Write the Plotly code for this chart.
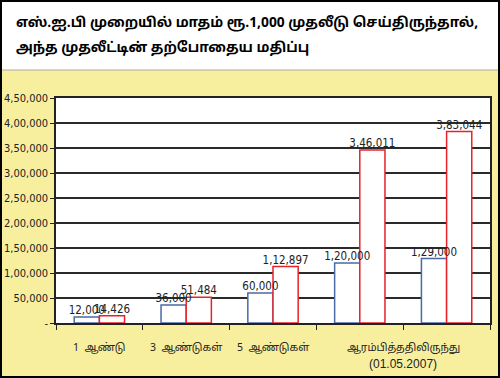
import plotly.graph_objects as go

# ---- data ----
group_pos = [0, 1, 2, 3, 4]
invested = [12000, 36000, 60000, 120000, 129000]
current_value = [14426, 51484, 112897, 346011, 383044]
x_label_pos = [0, 1, 2, 3.5]
x_labels = ["1  ஆண்டு", "3  ஆண்டுகள்", "5  ஆண்டுகள்", "ஆரம்பித்ததிலிருந்து"]
x_sublabels = ["", "", "", "(01.05.2007)"]
y_ticks = [0, 50000, 100000, 150000, 200000, 250000, 300000, 350000, 400000, 450000]
title_lines = ["எஸ்.ஐ.பி முறையில் மாதம் ரூ.1,000 முதலீடு செய்திருந்தால்,",
               "அந்த முதலீட்டின் தற்போதைய மதிப்பு"]


def indian(n):
    s = str(int(n))
    if len(s) <= 3:
        return s
    head, tail = s[:-3], s[-3:]
    parts = []
    while len(head) > 2:
        parts.insert(0, head[-2:])
        head = head[:-2]
    if head:
        parts.insert(0, head)
    return ",".join(parts) + "," + tail


W, H = 500, 378
L, R, T, B = 56, 10, 98, 55
pw, ph = W - L - R, H - T - B


def px_x(px):
    return (px - L) / pw


def px_y(py):
    return (H - B - py) / ph


YELLOW = "#F8EF9E"
NARROW = "Liberation Sans Narrow, DejaVu Sans Condensed, Arial Narrow, sans-serif"
TAMIL = "Noto Sans Tamil, Lohit Tamil, Noto Sans, DejaVu Sans, sans-serif"
BAR_OFFSET = 0.145  # half of one bar's width, in category units

fig = go.Figure()
fig.add_trace(go.Bar(
    x=group_pos, y=invested, marker=dict(color="white", line=dict(color="#4A6AA6", width=1.5)),
    showlegend=False, hoverinfo="skip",
))
fig.add_trace(go.Bar(
    x=group_pos, y=current_value, marker=dict(color="white", line=dict(color="#E5232A", width=1.5)),
    showlegend=False, hoverinfo="skip",
))
# value labels drawn on top of all bars
fig.add_trace(go.Scatter(
    x=[g - BAR_OFFSET for g in group_pos], y=invested, mode="text",
    text=[indian(v) for v in invested], textposition="top center", cliponaxis=False,
    textfont=dict(family=NARROW, size=11.5, color="#222"), showlegend=False, hoverinfo="skip",
))
fig.add_trace(go.Scatter(
    x=[g + BAR_OFFSET for g in group_pos], y=current_value, mode="text",
    text=[indian(v) for v in current_value], textposition="top center", cliponaxis=False,
    textfont=dict(family=NARROW, size=11.5, color="#222"), showlegend=False, hoverinfo="skip",
))

fig.update_layout(
    width=W, height=H, margin=dict(l=L, r=R, t=T, b=B, autoexpand=False),
    paper_bgcolor=YELLOW, plot_bgcolor="white",
    barmode="group", bargap=0.42, bargroupgap=0,
    font=dict(family=NARROW, color="#222"),
)
fig.update_xaxes(
    range=[-0.5, 4.5], tickvals=[-0.5, 0.5, 1.5, 2.5, 3.5, 4.5], ticktext=[""] * 6,
    ticks="outside", ticklen=5, tickcolor="#222", tickwidth=1, automargin=False,
    showgrid=False, showline=True, linecolor="#222", linewidth=1.5, mirror=True, zeroline=False,
)
fig.update_yaxes(
    range=[0, 450000], tickvals=y_ticks,
    ticktext=["-" if v == 0 else indian(v) for v in y_ticks],
    ticks="outside", ticklen=4, tickcolor="#222", automargin=False,
    tickfont=dict(family=NARROW, size=11, color="#222"),
    showgrid=True, gridcolor="#2a2a2a", gridwidth=1.8,
    showline=True, linecolor="#222", linewidth=1.5, mirror=True, zeroline=False,
)

# white title band and outer border
fig.add_shape(type="rect", xref="paper", yref="paper",
              x0=px_x(0), x1=px_x(W), y0=px_y(70), y1=px_y(0),
              fillcolor="white", line=dict(width=0), layer="below")
fig.add_shape(type="line", xref="paper", yref="paper",
              x0=px_x(0), x1=px_x(W), y0=px_y(70), y1=px_y(70),
              line=dict(color="#aaa", width=1))
fig.add_shape(type="rect", xref="paper", yref="paper",
              x0=px_x(1), x1=px_x(W - 1), y0=px_y(H - 1), y1=px_y(1),
              line=dict(color="black", width=2), fillcolor="rgba(0,0,0,0)")

for i, line in enumerate(title_lines):
    fig.add_annotation(xref="paper", yref="paper", x=px_x(14), y=px_y(23 + 25 * i),
                       xanchor="left", yanchor="middle", showarrow=False,
                       text="<b>" + line + "</b>",
                       font=dict(family=TAMIL, size=13.8, color="black"))

for xp, lab, sub in zip(x_label_pos, x_labels, x_sublabels):
    fig.add_annotation(xref="x", yref="paper", x=xp, y=px_y(348), xanchor="center", yanchor="middle",
                       showarrow=False, text=lab,
                       font=dict(family=TAMIL, size=10.5, color="#222"))
    if sub:
        fig.add_annotation(xref="x", yref="paper", x=xp, y=px_y(364), xanchor="center",
                           yanchor="middle", showarrow=False, text=sub,
                           font=dict(family="Liberation Sans, Arial, sans-serif", size=12, color="#222"))

fig.write_html("out.html", config={"displayModeBar": False},
               post_script="document.body.style.margin='0';document.body.style.overflow='hidden';")
